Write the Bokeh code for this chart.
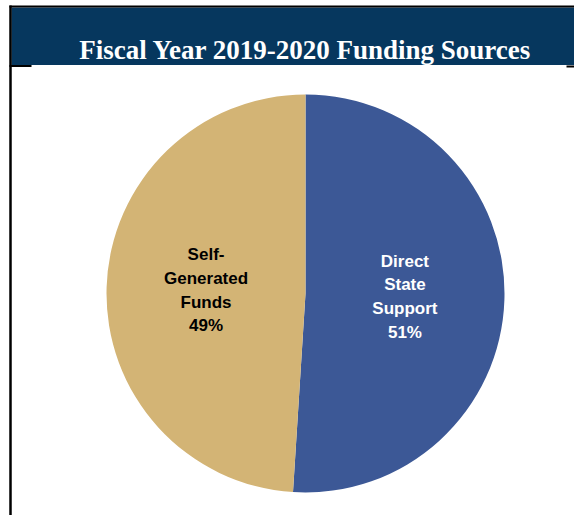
import math
from bokeh.plotting import figure
from bokeh.models import Range1d, ColumnDataSource
from bokeh.core.properties import value
from bokeh.embed import file_html
from bokeh.resources import INLINE

# ---- data ----
title_text = "Fiscal Year 2019-2020 Funding Sources"
categories = ["Direct\nState\nSupport", "Self-\nGenerated\nFunds"]
shares = [51, 49]
colors = ["#3C5896", "#D3B475"]
label_colors = ["white", "black"]

# ---- layout (figure pixel space: x right, y_img down; data y = 515 - y_img) ----
W, H = 574, 515
p = figure(width=W, height=H, output_backend="svg", toolbar_location=None,
           x_range=Range1d(0, W), y_range=Range1d(0, H),
           min_border=0, outline_line_color=None)
p.axis.visible = False
p.grid.visible = False
p.background_fill_color = "white"
p.border_fill_color = "white"

def Y(yimg):
    return H - yimg

# title bar
p.quad(left=[11], right=[W], top=[Y(7)], bottom=[Y(64.5)],
       fill_color="#06375E", line_color=None)
p.segment(x0=[9], y0=[Y(6)], x1=[W], y1=[Y(6)], line_color="black", line_width=2)
p.segment(x0=[9], y0=[Y(65.5)], x1=[31], y1=[Y(65.5)], line_color="black", line_width=2)
p.segment(x0=[566], y0=[Y(66)], x1=[W], y1=[Y(66)], line_color="black", line_width=2)
# left border
p.segment(x0=[10], y0=[Y(5)], x1=[10], y1=[Y(H)], line_color="black", line_width=2.5)

p.text(x=[305], y=[Y(49)], text=[title_text], text_color="white",
       text_font=value("Liberation Serif"), text_font_style="bold",
       text_font_size="27px", text_align="center", text_baseline="middle")

# pie
cx, cy, R = 305, Y(293), 199
total = sum(shares)
starts, ends, mids = [], [], []
acc = 0.0
for s in shares:
    a0 = math.pi / 2 - 2 * math.pi * acc / total
    acc += s
    a1 = math.pi / 2 - 2 * math.pi * acc / total
    starts.append(a1)
    ends.append(a0)
    mids.append((a0 + a1) / 2)

src = ColumnDataSource(dict(start=starts, end=ends, color=colors))
p.wedge(x=cx, y=cy, radius=R, start_angle="start", end_angle="end",
        fill_color="color", line_color=None, source=src)

lx = [cx + 0.5 * R * math.cos(m) for m in mids]
ly = [cy + 0.5 * R * math.sin(m) for m in mids]
texts = [f"{c}\n{s}%" for c, s in zip(categories, shares)]
p.text(x=lx, y=ly, text=texts, text_color=label_colors,
       text_font=value("Liberation Sans"), text_font_style="bold",
       text_font_size="17px", text_align="center", text_baseline="middle",
       text_line_height=1.25)

open("out.html", "w").write(file_html(p, INLINE))
